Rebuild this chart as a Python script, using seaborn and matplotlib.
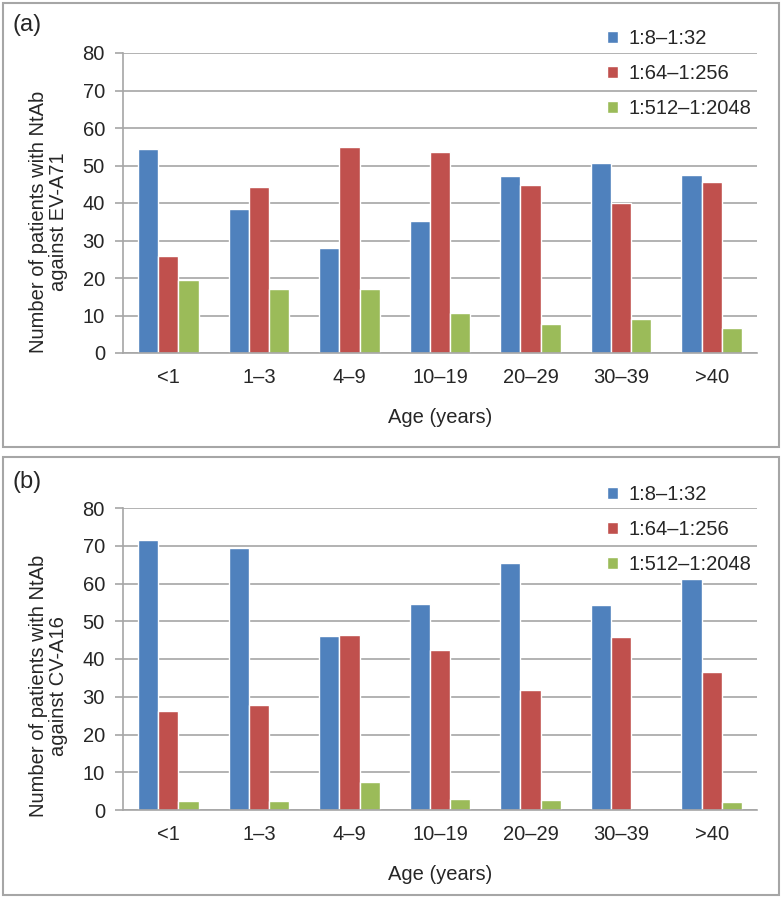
import matplotlib
matplotlib.use("Agg")
import matplotlib.pyplot as plt
from matplotlib.patches import Rectangle
import seaborn as sns
import pandas as pd

age_groups = ["<1", "1–3", "4–9", "10–19", "20–29", "30–39", ">40"]
titers = ["1:8–1:32", "1:64–1:256", "1:512–1:2048"]

ev_low = [54.3, 38.3, 27.9, 35.3, 47.2, 50.8, 47.6]
ev_mid = [26.0, 44.3, 55.0, 53.6, 44.9, 40.0, 45.6]
ev_high = [19.5, 17.2, 17.0, 10.8, 7.7, 9.2, 6.6]

cv_low = [71.4, 69.4, 46.0, 54.6, 65.3, 54.2, 61.1]
cv_mid = [26.1, 27.9, 46.4, 42.4, 31.9, 45.7, 36.6]
cv_high = [2.3, 2.5, 7.4, 2.8, 2.7, 0.0, 2.1]

ylabels = ["Number of patients with NtAb\nagainst EV-A71",
           "Number of patients with NtAb\nagainst CV-A16"]
panel_tags = ["(a)", "(b)"]
colors = ["#4F81BD", "#C0504D", "#9BBB59"]


def long_frame(low, mid, high):
    rows = []
    for series, vals in zip(titers, [low, mid, high]):
        for a, v in zip(age_groups, vals):
            rows.append({"age": a, "titer": series, "count": v})
    return pd.DataFrame(rows)


sns.set_theme(style="white")
plt.rcParams["font.family"] = ["Liberation Sans", "DejaVu Sans"]

W, H = 783, 898
fig = plt.figure(figsize=(W / 100, H / 100), dpi=100)

# panel borders
for (x0, y0, x1, y1) in [(3, 3, 779, 447), (3, 457, 779, 895)]:
    fig.patches.append(Rectangle((x0 / W, 1 - y1 / H), (x1 - x0) / W, (y1 - y0) / H,
                                 transform=fig.transFigure, fill=False,
                                 edgecolor="#A6A6A6", linewidth=1.5))

axes_px = [(123, 53, 757, 353), (123, 508, 757, 810)]
frames = [long_frame(ev_low, ev_mid, ev_high), long_frame(cv_low, cv_mid, cv_high)]
label_y = [0.437, 0.41]
tag_y = [25, 482]
legend_y = [21, 477]

grid_c = "#A6A6A6"
text_c = "#262626"
fs = 14.5

for i in range(2):
    x0, y0, x1, y1 = axes_px[i]
    ax = fig.add_axes([x0 / W, 1 - y1 / H, (x1 - x0) / W, (y1 - y0) / H])
    sns.barplot(data=frames[i], x="age", y="count", hue="titer", palette=colors,
                width=0.67, saturation=1, ax=ax, legend=True)
    ax.set_xlim(-0.5, 6.5)
    ax.set_ylim(0, 80)
    ax.set_yticks(range(0, 81, 10))
    ax.yaxis.grid(True, color=grid_c, linewidth=1.2)
    ax.set_axisbelow(True)
    for s in ["top", "right"]:
        ax.spines[s].set_visible(False)
    for s in ["left", "bottom"]:
        ax.spines[s].set_color(grid_c)
        ax.spines[s].set_linewidth(1.2)
    ax.tick_params(axis="y", length=6, width=1.2, color=grid_c, pad=7,
                   labelsize=fs, labelcolor=text_c, left=True)
    ax.tick_params(axis="x", length=0, pad=11, labelsize=fs, labelcolor=text_c)
    ax.set_xlabel("Age (years)", fontsize=fs, color=text_c, labelpad=15)
    ax.set_ylabel(ylabels[i], fontsize=fs, color=text_c, linespacing=1.05)
    ax.yaxis.set_label_coords(-0.087, label_y[i])
    handles, labels = ax.get_legend_handles_labels()
    ax.legend(handles, labels, loc="upper left", frameon=False,
              bbox_to_anchor=(599 / W, 1 - legend_y[i] / H),
              bbox_transform=fig.transFigure,
              fontsize=fs, handlelength=0.55, handleheight=0.55,
              handletextpad=0.5, labelspacing=0.8, borderaxespad=0,
              labelcolor=text_c)
    fig.text(13 / W, 1 - tag_y[i] / H, panel_tags[i], fontsize=17, color=text_c,
             va="center", ha="left")

fig.savefig("out.png", dpi=100)
